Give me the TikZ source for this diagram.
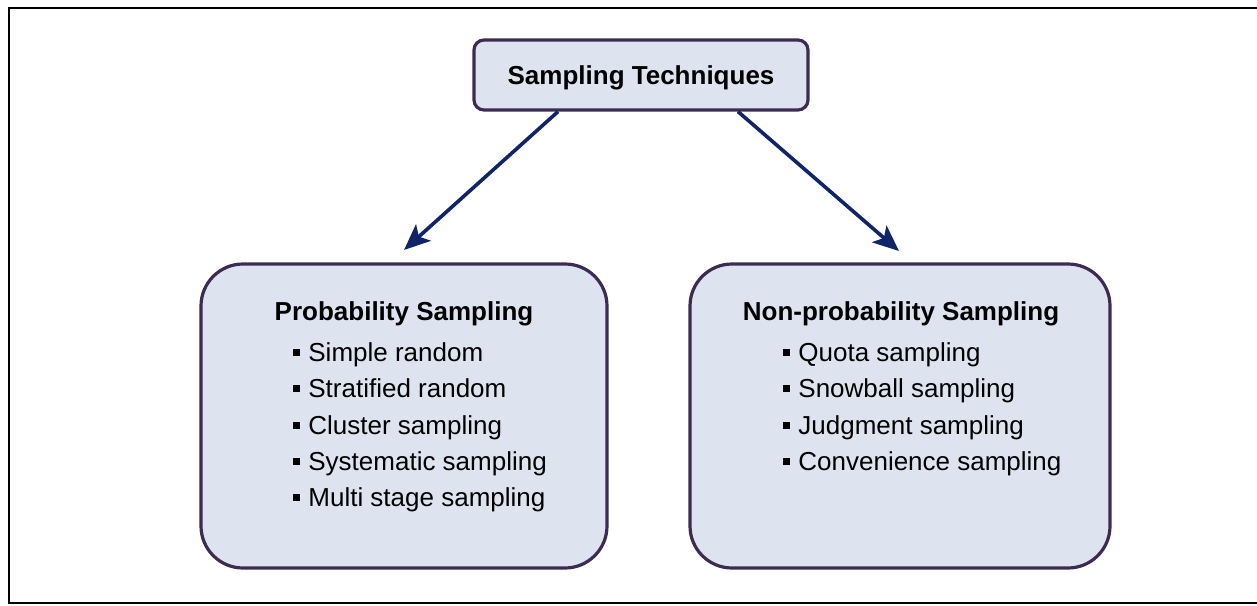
\documentclass[tikz,border=0pt]{standalone}
\usepackage{fontspec}
\setmainfont{Liberation Sans}
\usetikzlibrary{arrows.meta}
\definecolor{boxfill}{HTML}{DDE3EF}
\definecolor{boxline}{HTML}{3D2C52}
\definecolor{arrowcol}{HTML}{102468}
\tikzset{
  px/.style={x=0.5pt,y=-0.5pt},
  topbox/.style={draw=boxline,fill=boxfill,line width=1.6pt,rounded corners=5pt,minimum width=167pt,minimum height=35pt,inner sep=0pt},
  bigbox/.style={draw=boxline,fill=boxfill,line width=1.6pt,rounded corners=21pt,inner sep=0pt},
  head/.style={font=\bfseries\fontsize{13}{15}\selectfont,anchor=base,inner sep=0pt},
  item/.style={font=\fontsize{13}{15}\selectfont,anchor=base west,inner sep=0pt},
  bul/.style={fill=black,minimum size=3.5pt,inner sep=0pt},
  conn/.style={draw=arrowcol,line width=1.8pt,-{Stealth[length=13pt,width=11pt,inset=3pt]}},
}
\begin{document}
\begin{tikzpicture}[px]
\useasboundingbox (0,0) rectangle (1257,605);
% outer frame
\draw[line width=1.1pt] (1270,8) -- (9,8) -- (9,603) -- (1270,603);
% boxes
\node[topbox] (top) at (641,75) {};
\node[bigbox,minimum width=203pt,minimum height=152pt] (left) at (404,416) {};
\node[bigbox,minimum width=210pt,minimum height=152pt] (right) at (900,416) {};
% title
\node[head] (title) at (641,84) {Sampling Techniques};
% headings
\node[head] (lhead) at (404,320) {Probability Sampling};
\node[head] (rhead) at (901,320) {Non-probability Sampling};
% left items
\foreach \t/\y/\n in {Simple random/361/1,Stratified random/397/2,Cluster sampling/434/3,Systematic sampling/470/4,Multi stage sampling/506/5}{
  \node[bul] (lb\n) at (296,{\y-9}) {};
  \node[item] (li\n) at (308,\y) {\t};
}
% right items
\foreach \t/\y/\n in {Quota sampling/361/1,Snowball sampling/397/2,Judgment sampling/434/3,Convenience sampling/470/4}{
  \node[bul] (rb\n) at (786,{\y-9}) {};
  \node[item] (ri\n) at (798,\y) {\t};
}
% connectors
\coordinate (la) at (404,250);
\coordinate (ra) at (899,251);
\draw[conn] (top.south -| 558,0) -- (la);
\draw[conn] (top.south -| 738,0) -- (ra);
\end{tikzpicture}
\end{document}
